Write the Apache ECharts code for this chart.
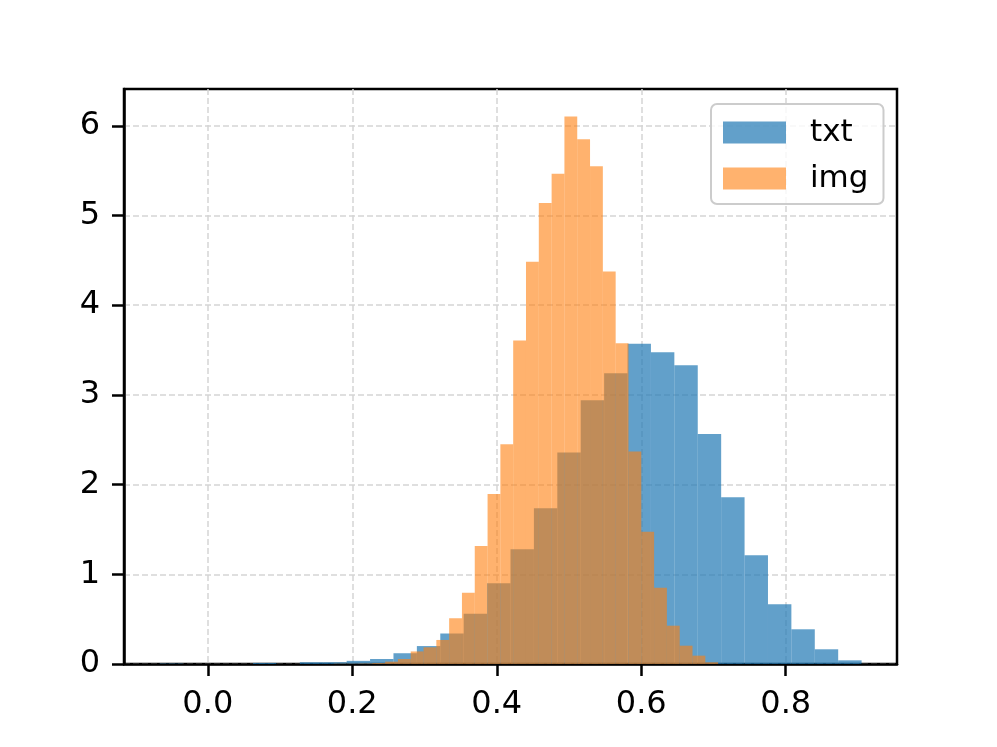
<!DOCTYPE html>
<html>
<head>
<meta charset="utf-8">
<style>
  html, body { margin: 0; padding: 0; background: #fff; }
  #chart { width: 997px; height: 747px; }
</style>
<script src="https://cdn.jsdelivr.net/npm/echarts@6/dist/echarts.min.js"></script>
</head>
<body>
<div id="chart"></div>
<script>
// histogram bins: start of the first bin, bin width, density per bin
const txtBinStart = -0.067
const txtBinWidth = 0.0324
const txtDensity = [
  0.004, 0, 0, 0, 0.012, 0, 0.02, 0.02, 0.035, 0.056,
  0.12, 0.2, 0.34, 0.56, 0.9, 1.28, 1.736, 2.357, 2.94, 3.24,
  3.57, 3.476, 3.33, 2.565, 1.859, 1.212, 0.666, 0.387, 0.164, 0.041
]

const imgBinStart = 0.1745
const imgBinWidth = 0.01773
const imgDensity = [
  0.003, 0.003, 0.005, 0.01, 0.026, 0.056, 0.14, 0.186, 0.268, 0.51,
  0.795, 1.316, 1.896, 2.45, 3.606, 4.483, 5.138, 5.465, 6.104, 5.851,
  5.55, 4.375, 3.576, 2.368, 1.475, 0.851, 0.427, 0.204, 0.093, 0.019
]

const xTicks = [0.0, 0.2, 0.4, 0.6, 0.8]
const yTicks = [0, 1, 2, 3, 4, 5, 6]

const fontFamily = 'DejaVu Sans'

function toBins(start, width, density) {
  return density.map(function(d, i) {
    return [start + i * width, start + (i + 1) * width, d]
  })
}

function renderBin(params, api) {
  const top = api.coord([api.value(0), api.value(2)])
  const bottom = api.coord([api.value(1), 0])
  return {
    type: 'rect',
    shape: {
      x: top[0],
      y: top[1],
      width: bottom[0] - top[0],
      height: bottom[1] - top[1]
    },
    style: api.style()
  }
}

const chart = echarts.init(document.getElementById('chart'), null, { renderer: 'canvas' })

chart.setOption({
  animation: false,
  backgroundColor: '#fff',
  textStyle: { fontFamily: fontFamily },
  grid: {
    left: 124,
    right: 100,
    top: 89,
    bottom: 83,
    show: true,
    borderColor: '#000',
    borderWidth: 2.5,
    backgroundColor: 'transparent'
  },
  legend: {
    left: 711,
    top: 104,
    orient: 'vertical',
    itemWidth: 63,
    itemHeight: 22,
    itemGap: 15,
    padding: [13, 15, 10, 12],
    backgroundColor: 'rgba(255,255,255,0.8)',
    borderColor: '#cccccc',
    borderWidth: 2,
    borderRadius: 6,
    textStyle: {
      fontFamily: fontFamily,
      fontSize: 31,
      color: '#000',
      padding: [0, 0, 0, 19]
    },
    data: [
      { name: 'txt', icon: 'rect' },
      { name: 'img', icon: 'rect' }
    ]
  },
  xAxis: {
    type: 'value',
    min: -0.116,
    max: 0.954,
    axisLine: { show: true, onZero: false, lineStyle: { color: '#000', width: 2.5 } },
    axisTick: {
      show: true,
      inside: false,
      length: 12,
      lineStyle: { color: '#000', width: 2.5 },
      customValues: xTicks
    },
    axisLabel: {
      customValues: xTicks,
      margin: 25,
      fontSize: 32,
      fontFamily: fontFamily,
      color: '#000',
      formatter: function(v) { return v.toFixed(1) }
    },
    splitLine: {
      show: true,
      lineStyle: { color: '#d5d5d5', width: 1.5, type: [6, 3] }
    }
  },
  yAxis: {
    type: 'value',
    min: 0,
    max: 6.41,
    axisLine: { show: true, onZero: false, lineStyle: { color: '#000', width: 2.5 } },
    axisTick: {
      show: true,
      inside: false,
      length: 12,
      lineStyle: { color: '#000', width: 2.5 },
      customValues: yTicks
    },
    axisLabel: {
      customValues: yTicks,
      margin: 24,
      fontSize: 32,
      fontFamily: fontFamily,
      color: '#000'
    },
    splitLine: {
      show: true,
      lineStyle: { color: '#d5d5d5', width: 1.5, type: [6, 3] }
    }
  },
  series: [
    {
      name: 'txt',
      type: 'custom',
      renderItem: renderBin,
      encode: { x: [0, 1], y: 2 },
      itemStyle: { color: 'rgba(31,119,180,0.7)' },
      data: toBins(txtBinStart, txtBinWidth, txtDensity)
    },
    {
      name: 'img',
      type: 'custom',
      renderItem: renderBin,
      encode: { x: [0, 1], y: 2 },
      itemStyle: { color: 'rgba(255,127,14,0.6)' },
      data: toBins(imgBinStart, imgBinWidth, imgDensity)
    }
  ]
})
</script>
</body>
</html>
